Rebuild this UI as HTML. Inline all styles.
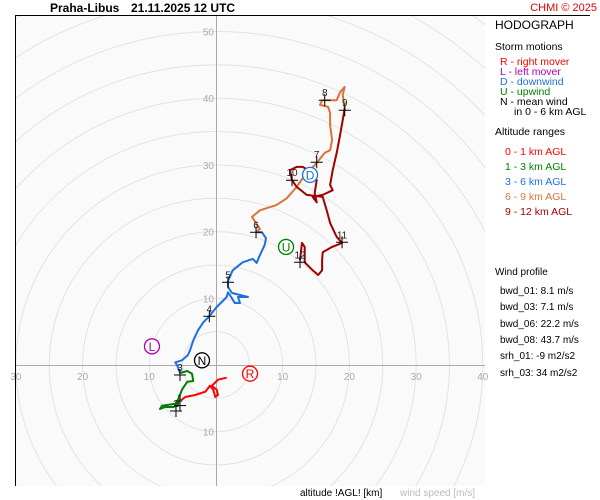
<!DOCTYPE html>
<html><head><meta charset="utf-8"><style>
html,body{margin:0;background:#fff;overflow:hidden;width:600px;height:500px;}
svg{display:block;font-family:"Liberation Sans",sans-serif;}
</style></head><body>
<svg id="c" width="600" height="500" xmlns="http://www.w3.org/2000/svg">
<defs><clipPath id="clip"><rect x="16" y="16" width="469" height="470"/></clipPath></defs>
<rect x="16" y="16" width="469" height="470" fill="#fafafa"/>
<g id="grid" clip-path="url(#clip)"></g>
<g id="ticks"></g>
<g id="traces" clip-path="url(#clip)"></g>
<g id="marks"></g>
<g id="storms"></g>
<line x1="15" y1="15.5" x2="590" y2="15.5" stroke="#000"/>
<line x1="15.5" y1="15" x2="15.5" y2="486" stroke="#000"/>
<text x="50" y="12" font-size="12" font-weight="bold">Praha-Libus</text>
<text x="131" y="12" font-size="12" font-weight="bold">21.11.2025 12 UTC</text>
<text x="597" y="11" font-size="11" fill="#e00000" text-anchor="end">CHMI © 2025</text>
<text x="300" y="496" font-size="10" fill="#000">altitude !AGL! [km]</text>
<text x="400" y="496" font-size="10" fill="#bbb">wind speed [m/s]</text>
<g font-size="10.5">
<text x="495" y="29" font-size="12">HODOGRAPH</text>
<text x="495" y="50">Storm motions</text>
<text x="500" y="65" fill="#ff0000">R - right mover</text>
<text x="500" y="75" fill="#b000b0">L - left mover</text>
<text x="500" y="85" fill="#1e6fe0">D - downwind</text>
<text x="500" y="95" fill="#008000">U - upwind</text>
<text x="500" y="105">N - mean wind</text>
<text x="514" y="115">in 0 - 6 km AGL</text>
<text x="495" y="135">Altitude ranges</text>
<text x="505" y="155" fill="#ff0000">0 - 1 km AGL</text>
<text x="505" y="170" fill="#008000">1 - 3 km AGL</text>
<text x="505" y="185" fill="#1e6fe0">3 - 6 km AGL</text>
<text x="505" y="200" fill="#d9733a">6 - 9 km AGL</text>
<text x="505" y="215" fill="#a00000">9 - 12 km AGL</text>
<text x="495" y="275" font-size="10">Wind profile</text>
<g font-size="10">
<text x="500" y="294">bwd_01: 8.1 m/s</text>
<text x="500" y="310">bwd_03: 7.1 m/s</text>
<text x="500" y="327">bwd_06: 22.2 m/s</text>
<text x="500" y="343">bwd_08: 43.7 m/s</text>
<text x="500" y="359">srh_01: -9 m2/s2</text>
<text x="500" y="376">srh_03: 34 m2/s2</text>
</g></g>
</svg>
<script>
const ringSpeeds=[5,10,15,20,25,30,35,40,45,50,55,60,65,70];
const tickSpeeds=[10,20,30,40];
const vTickSpeeds=[10,20,30,40,50];
const seg01U=[-5.4,-4.6,-3.1,-1.6,-0.9,-0.4,-0.1,0.3,0.1,-0.6,0.3,1.6];
const seg01V=[-5.4,-4.8,-4.5,-4.0,-3.1,-3.7,-4.8,-4.5,-3.7,-3.1,-2.2,-1.9];
const seg13U=[-5.5,-5.7,-6.4,-7.6,-8.4,-8.1,-6.1,-5.7,-5.1,-4.3,-3.4,-3.6,-4.3,-5.4];
const seg13V=[-4.5,-6.0,-6.3,-6.3,-6.6,-6.1,-5.8,-5.2,-3.7,-2.5,-2.4,-1.3,-0.9,-1.2];
const seg36U=[-5.4,-5.8,-6.1,-5.1,-4.2,-3.9,-3.4,-2.7,-1.9,-1.0,0.1,1.6,1.8,2.4,2.8,3.6,3.3,4.8,3.6,2.4,1.8,1.8,2.5,4.0,5.5,6.1,6.6,7.3,7.5,6.9,6.0];
const seg36V=[-1.2,-0.1,0.4,0.7,1.5,2.2,3.7,5.2,6.4,7.3,8.7,10.2,10.9,10.0,9.3,9.3,10.2,10.2,10.5,10.8,11.7,12.6,14.2,15.4,15.9,15.3,16.5,18.0,19.0,19.9,19.9];
const seg69U=[6.0,6.6,6.1,5.4,6.6,9.1,10.6,12.1,13.0,14.1,15.1,16.3,17.1,17.4,17.1,17.1,16.8,15.6,15.9,18.1,18.6,19.3,19.0,19.3];
const seg69V=[19.9,20.4,21.1,22.2,23.2,24.0,25.0,26.7,28.0,29.2,30.3,31.8,32.2,33.7,36.0,37.8,38.7,39.0,39.7,39.7,40.9,41.7,40.5,38.5];
const seg912U=[19.3,19.0,18.6,18.1,17.5,17.1,17.5,16.0,14.5,15.1,14.8,15.1,14.5,13.0,12.1,11.1,11.4,12.1,13.6,16.0,16.6,17.1,18.1,18.9,17.4,16.0,15.9,15.9,15.3,14.5,13.3,13.3,12.9,12.6];
const seg912V=[38.5,36.7,34.5,31.8,29.2,27.0,26.2,25.5,25.2,24.4,25.8,27.7,28.8,29.7,29.7,29.2,27.7,26.7,25.5,25.2,23.2,21.3,19.2,18.3,17.7,16.9,15.7,14.2,13.5,14.2,15.4,17.7,18.3,15.7];
const heightLabels=["1","2","3","4","5","6","7","8","9","10","11","12"];
const heightU=[-5.4,-6.0,-5.4,-1.0,1.8,6.0,15.1,16.3,19.3,11.4,18.9,12.6];
const heightV=[-6.1,-6.9,-1.5,7.3,12.4,19.9,30.4,39.7,38.2,27.7,18.4,15.4];
const stormLabels=["R","L","D","U","N"];
const stormU=[5.1,-9.6,14.1,10.5,-2.1];
const stormV=[-1.3,2.8,28.5,17.7,0.7];
const stormColors=["#ff0000","#b000b0","#1e6fe0","#008000","#000"];

const NS="http://www.w3.org/2000/svg";
const cx=216, cy=365, k=6.67;
const X=u=>cx+u*k, Y=v=>cy-v*k;
function mk(tag,parent,attrs){const e=document.createElementNS(NS,tag);for(const a in attrs)e.setAttribute(a,attrs[a]);parent.appendChild(e);return e;}
const grid=document.getElementById('grid');
ringSpeeds.forEach(s=>{
 const c=mk('circle',grid,{cx:cx,cy:cy,r:s*k,fill:'none',stroke:'#e3e3e3','stroke-width':1});
 
 
});
const ax=mk('line',grid,{x1:16,y1:cy+.5,x2:485,y2:cy+.5,stroke:'#aaa'});


const ay=mk('line',grid,{x1:cx+.5,y1:16,x2:cx+.5,y2:486,stroke:'#aaa'});


const ticks=document.getElementById('ticks');
function tl(x,y,s,anchor){const t=mk('text',ticks,{x:x,y:y,'font-size':10,fill:'#aaa','text-anchor':anchor});t.textContent=s;
 
 }
tickSpeeds.forEach(s=>{tl(X(s),cy+15,s,'middle');tl(X(-s),cy+15,s,'middle');});
vTickSpeeds.forEach(s=>tl(cx-2,Y(s)+4,s,'end'));
tl(cx-2,Y(-10)+4,10,'end');
const traces=document.getElementById('traces');
const segs=[[seg01U,seg01V,'#ff0000','trace-0-1km'],[seg13U,seg13V,'#008000','trace-1-3km'],[seg36U,seg36V,'#1e6fe0','trace-3-6km'],[seg69U,seg69V,'#d9733a','trace-6-9km'],[seg912U,seg912V,'#a00000','trace-9-12km']];
segs.forEach(s=>{
 const pts=s[0].map((u,i)=>X(u).toFixed(1)+','+Y(s[1][i]).toFixed(1)).join(' ');
 const p=mk('polyline',traces,{points:pts,fill:'none',stroke:s[2],'stroke-width':2,'stroke-linejoin':'round'});
 
 
});
const marks=document.getElementById('marks');
heightLabels.forEach((l,i)=>{
 const x=X(heightU[i]),y=Y(heightV[i]);
 const g=mk('g',marks,{});
 
 
 mk('path',g,{d:`M${x-6},${y}h12M${x},${y-6}v12`,stroke:'#000','stroke-width':1});
 const t=mk('text',g,{x:x,y:y-4,'font-size':10,'text-anchor':'middle',fill:'#222'});t.textContent=l;
});
const storms=document.getElementById('storms');
stormLabels.forEach((l,i)=>{
 const x=X(stormU[i]),y=Y(stormV[i]);
 const g=mk('g',storms,{});
 
 
 mk('circle',g,{cx:x,cy:y,r:7.5,fill:'#fff',stroke:stormColors[i],'stroke-width':1.3});
 const t=mk('text',g,{x:x,y:y+4.5,'font-size':12,'text-anchor':'middle',fill:stormColors[i]});t.textContent=l;
});
</script>
</body></html>
